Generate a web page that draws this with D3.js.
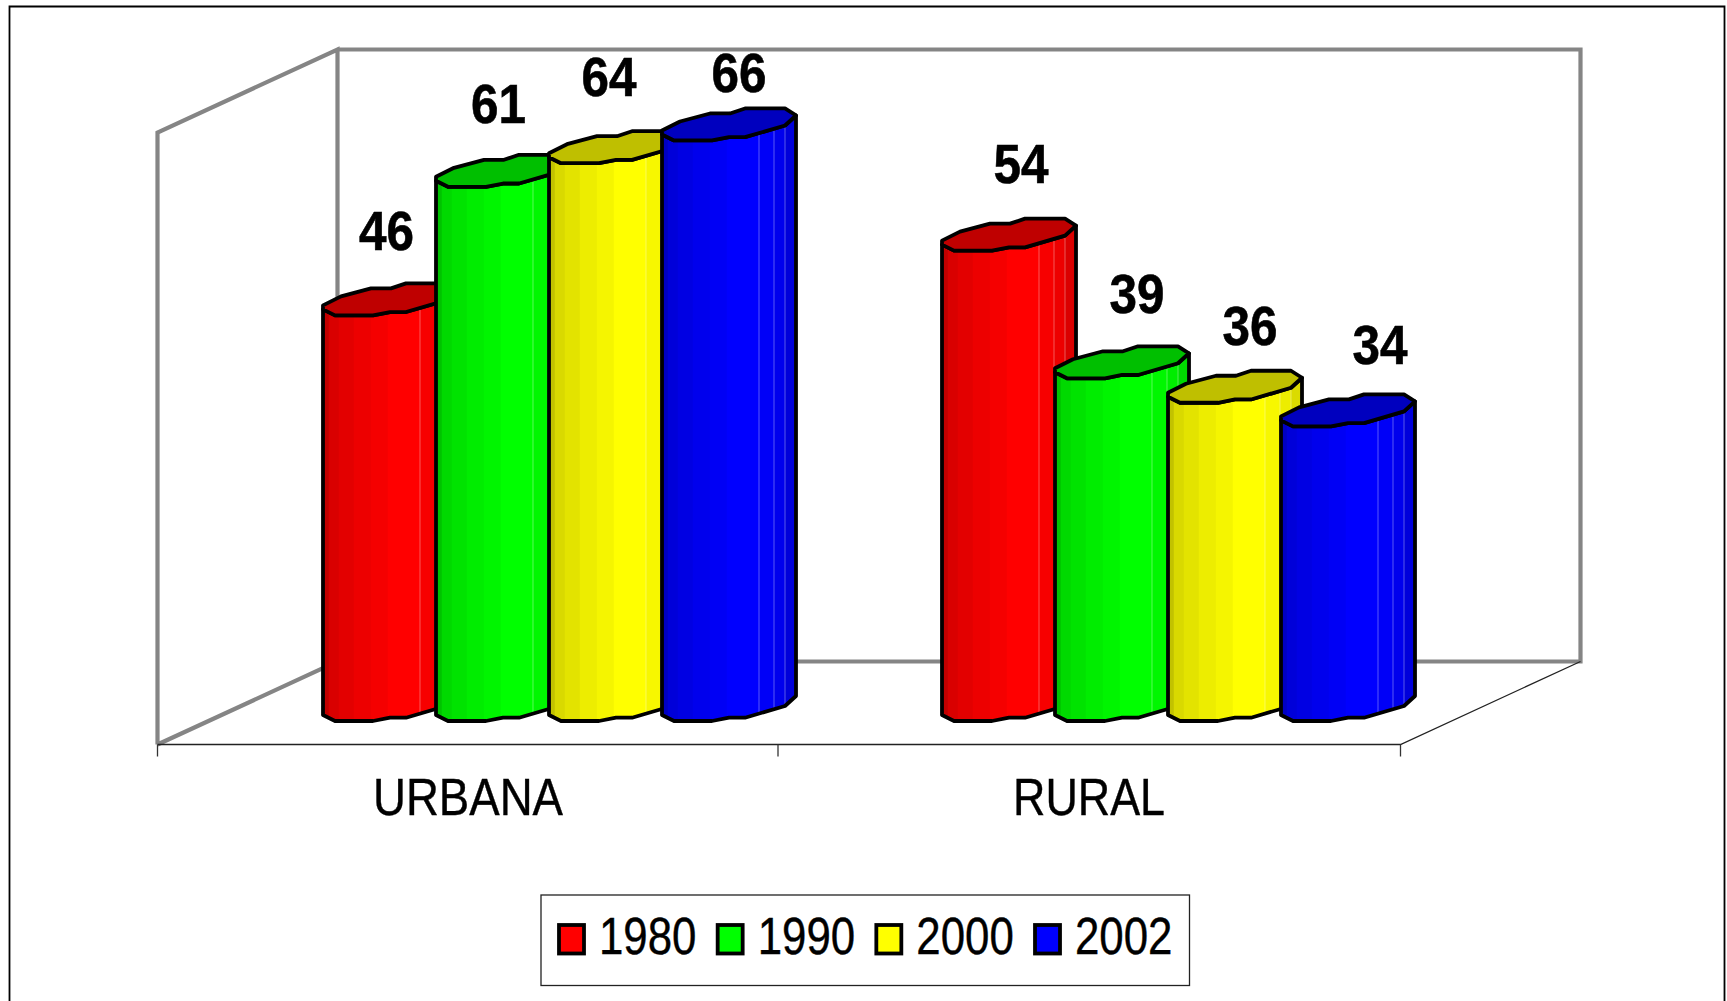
<!DOCTYPE html>
<html><head><meta charset="utf-8">
<script src="https://cdn.jsdelivr.net/npm/d3@7"></script>
<style>html,body{margin:0;padding:0;background:#fff}svg{display:block}text{font-family:"Liberation Sans",Arial,sans-serif;fill:#000}</style>
</head><body><svg id="c" width="1727" height="1001"></svg>
<script>
const categories = ["URBANA", "RURAL"];
const years = ["1980", "1990", "2000", "2002"];
const seriesColors = ["#ff0000", "#00ff00", "#ffff00", "#0000ff"];
const v1980 = [46.4, 53.8];
const v1990 = [61.1, 39.2];
const v2000 = [63.8, 36.4];
const v2002 = [66.4, 33.7];
const seriesValues = [v1980, v1990, v2000, v2002];
const yTicks = [0, 70];

// label placement (manual in the original)
const labelDx = [[63.5, 79], [62.5, 82], [60, 82], [77, 99]];
const labelDy = [[-65, -68], [-64, -65], [-67, -58], [-48, -62]];

// layout
const W = 1727, H = 1001;
const svg = d3.select("#c");
const layout = {frontLeft:157.5, frontRight:1400.5, floorFront:744.5, depthX:180, depthY:83, wall:612, base:721, barLeft:323, groupStep:619, barStep:113};

const y = d3.scaleLinear().domain(d3.extent(yTicks)).range([layout.base, layout.base - layout.wall]);
const xCat = d3.scaleBand().domain(categories).range([layout.frontLeft, layout.frontRight]);
const xGroup = d3.scaleBand().domain(categories).range([layout.barLeft, layout.barLeft + 2*layout.groupStep]);
const xBar = d3.scaleBand().domain(years).range([0, 4*layout.barStep]);

// outer frame
svg.append("path").attr("d", `M9.5 ${H+2}V6.5H1724.5V${H+2}`).attr("fill","none").attr("stroke","#000").attr("stroke-width",1.8);

// walls
const L=layout.frontLeft, R=layout.frontRight, F=layout.floorFront, dx=layout.depthX, dy=layout.depthY, h=layout.wall;
const wall = svg.append("g").attr("fill","none").attr("stroke","#858585").attr("stroke-width",4.2);
wall.append("path").attr("d",`M${L} ${F}V${F-h}L${L+dx} ${F-dy-h}V${F-dy}L${L} ${F}`);
wall.append("path").attr("d",`M${L+dx} ${F-dy-h}H${R+dx}V${F-dy}H${L+dx}`);
// floor front
svg.append("path").attr("d",`M${L} ${F}H${R}L${R+dx} ${F-dy}`).attr("fill","none").attr("stroke","#222").attr("stroke-width",1.3);
svg.append("g").selectAll("line").data([L, xCat("RURAL")-1, R]).join("line")
  .attr("x1",d=>d).attr("x2",d=>d).attr("y1",F).attr("y2",F+12).attr("stroke","#333").attr("stroke-width",1.3);

// bar shape
const frontProfile = [[0,-6],[12,0],[50,0],[67,-3.3],[83,-3.3],[123,-15],[134,-25]];
const backProfile  = [[0,-10],[18,-19],[48,-27],[68,-27],[83,-32],[123,-32],[134,-25]];
const prof = d3.scaleLinear().domain(frontProfile.map(d=>d[0])).range(frontProfile.map(d=>d[1]));
const facetEdges = [0,6,16,31,48,65,82,97,112,123,134];
const facetShade = [.76,.85,.89,.93,.96,1,1,.97,.93,.86];
const shade = (c,k)=>{const o=d3.rgb(c);return d3.rgb(o.r*k,o.g*k,o.b*k).formatHex();};
const line = d3.line();

const rows = [];
categories.forEach((c,ci)=>years.forEach((yr,si)=>rows.push({c,ci,yr,si,v:seriesValues[si][ci],color:seriesColors[si],
  x:xGroup(c)+xBar(yr)})));
const bars = svg.append("g").selectAll("g").data(rows).join("g");
bars.each(function(d){
  const g=d3.select(this), top=y(d.v), base=y(0);
  facetEdges.slice(0,-1).forEach((e,i)=>{
    const e2=facetEdges[i+1];
    g.append("path").attr("fill",shade(d.color,facetShade[i])).attr("stroke",shade(d.color,facetShade[i])).attr("stroke-width",.4)
     .attr("d",line([[d.x+e,top+prof(e)],[d.x+e2,top+prof(e2)],[d.x+e2,base+prof(e2)],[d.x+e,base+prof(e)]])+"Z");
  });
  [97,112,123].forEach(e=>g.append("line").attr("x1",d.x+e).attr("x2",d.x+e).attr("y1",top+prof(e)).attr("y2",base+prof(e))
     .attr("stroke","#fff").attr("stroke-opacity",.35).attr("stroke-width",1));
  const outline=[...frontProfile.map(p=>[d.x+p[0],base+p[1]]),...frontProfile.slice().reverse().map(p=>[d.x+p[0],top+p[1]])];
  g.append("path").attr("d",line(outline)+"Z").attr("fill","none").attr("stroke","#000").attr("stroke-width",3.8).attr("stroke-linejoin","round");
  const topPoly=[...frontProfile.map(p=>[d.x+p[0],top+p[1]]),...backProfile.slice().reverse().map(p=>[d.x+p[0],top+p[1]])];
  g.append("path").attr("d",line(topPoly)+"Z").attr("fill",shade(d.color,.75)).attr("stroke","#000").attr("stroke-width",3.8).attr("stroke-linejoin","round");
});

// value labels
svg.append("g").selectAll("text").data(rows).join("text")
  .attr("x",d=>d.x+labelDx[d.si][d.ci]).attr("y",d=>y(d.v)+labelDy[d.si][d.ci])
  .attr("text-anchor","middle").attr("font-weight","bold").attr("font-size",55)
  .attr("textLength",55).attr("lengthAdjust","spacingAndGlyphs")
  .attr("stroke","#000").attr("stroke-width",.6)
  .text(d=>d3.format(".0f")(d.v));

// category labels
const catLen = [190, 152];
const catCx = [468, 1089];
svg.append("g").selectAll("text").data(categories).join("text")
  .attr("x",(d,i)=>catCx[i]).attr("y",815).attr("text-anchor","middle").attr("font-size",52)
  .attr("textLength",(d,i)=>catLen[i]).attr("lengthAdjust","spacingAndGlyphs")
  .attr("stroke","#000").attr("stroke-width",.4).text(d=>d);

// legend
svg.append("rect").attr("x",541).attr("y",895).attr("width",648.5).attr("height",90.5).attr("fill","#fff").attr("stroke","#222").attr("stroke-width",1.3);
const lx = d3.scalePoint().domain(years).range([559,1035]);
const lg = svg.append("g").selectAll("g").data(years).join("g").attr("transform",d=>`translate(${lx(d)},0)`);
lg.append("rect").attr("x",0).attr("y",925).attr("width",25).attr("height",28.5).attr("fill",(d,i)=>seriesColors[i]).attr("stroke","#000").attr("stroke-width",3.8);
lg.append("text").attr("x",40).attr("y",953.5).attr("font-size",52).attr("textLength",97.5).attr("lengthAdjust","spacingAndGlyphs")
  .attr("stroke","#000").attr("stroke-width",.4).text(d=>d);
</script></body></html>
